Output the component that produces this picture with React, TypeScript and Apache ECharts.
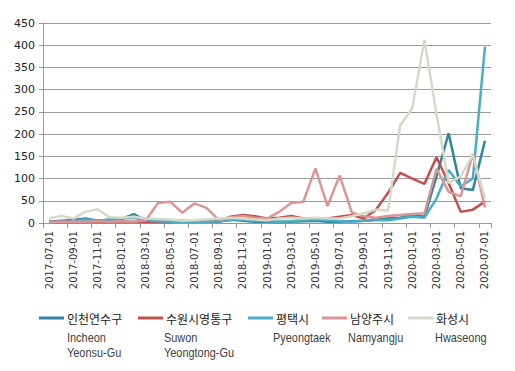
import React, { useEffect, useRef } from "react";
import * as echarts from "echarts";

const categories: string[] = [
  "2017-07-01","2017-08-01","2017-09-01","2017-10-01","2017-11-01","2017-12-01",
  "2018-01-01","2018-02-01","2018-03-01","2018-04-01","2018-05-01","2018-06-01",
  "2018-07-01","2018-08-01","2018-09-01","2018-10-01","2018-11-01","2018-12-01",
  "2019-01-01","2019-02-01","2019-03-01","2019-04-01","2019-05-01","2019-06-01",
  "2019-07-01","2019-08-01","2019-09-01","2019-10-01","2019-11-01","2019-12-01",
  "2020-01-01","2020-02-01","2020-03-01","2020-04-01","2020-05-01","2020-06-01",
  "2020-07-01",
];

const incheonYeonsu: number[] = [3,5,7,10,5,8,9,20,5,3,2,5,3,4,3,8,5,3,3,2,3,4,5,3,3,4,5,8,10,12,18,14,105,202,78,74,185];
const suwonYeongtong: number[] = [2,3,2,3,2,3,2,3,2,3,2,3,4,3,5,14,18,15,10,12,16,10,8,10,14,18,10,30,68,113,100,88,148,90,25,30,48];
const pyeongtaek: number[] = [2,3,4,8,6,6,10,12,6,4,3,3,2,3,4,6,8,5,4,3,4,6,8,6,4,3,5,6,6,10,14,12,55,119,82,100,397];
const namyangju: number[] = [2,3,3,3,4,3,4,3,6,45,48,23,44,34,7,12,16,12,10,25,45,48,123,38,107,24,15,12,16,18,20,22,122,70,60,155,35];
const hwaseong: number[] = [10,16,10,25,31,13,12,14,10,9,8,5,6,8,10,12,10,8,6,10,12,10,12,10,10,15,22,30,28,220,258,412,245,90,105,153,55];

const seriesNamesKo: string[] = ["인천연수구", "수원시영통구", "평택시", "남양주시", "화성시"];
const seriesNamesEn: string[][] = [
  ["Incheon", "Yeonsu-Gu"],
  ["Suwon", "Yeongtong-Gu"],
  ["Pyeongtaek"],
  ["Namyangju"],
  ["Hwaseong"],
];
const seriesData: number[][] = [incheonYeonsu, suwonYeongtong, pyeongtaek, namyangju, hwaseong];
const colors: string[] = ["#31859C", "#C0504D", "#4BACC6", "#D99694", "#D5DAC8"];

const legendLefts = [39, 138, 248, 322, 408];
const enLefts = [67, 164, 273, 348, 435];

export default function App() {
  const ref = useRef<HTMLDivElement>(null);
  useEffect(() => {
    if (!ref.current) return;
    const chart = echarts.init(ref.current, undefined, { renderer: "svg" });
    const graphics: any[] = [];
    seriesNamesEn.forEach((lines, k) => {
      lines.forEach((t, j) => {
        graphics.push({
          type: "text",
          x: enLefts[k],
          y: 338 + j * 15,
          scaleX: 0.84,
          style: {
            text: t,
            fill: "#404040",
            font: '13px "Liberation Sans", Arial, sans-serif',
            verticalAlign: "middle",
            align: "left",
          },
        });
      });
    });
    chart.setOption({
      animation: false,
      grid: { left: 43, right: 24, top: 23, bottom: 148, containLabel: false },
      xAxis: {
        type: "category",
        data: categories,
        boundaryGap: true,
        axisLine: { show: true, lineStyle: { color: "#999", width: 1 } },
        axisTick: { show: true, interval: 1, length: 5, lineStyle: { color: "#999" } },
        axisLabel: {
          interval: 1,
          rotate: 90,
          margin: 8,
          color: "#333",
          fontSize: 10,
          fontFamily: '"DejaVu Sans", sans-serif',
        },
        splitLine: { show: false },
      },
      yAxis: {
        type: "value",
        min: 0,
        max: 450,
        interval: 50,
        axisLine: { show: true, lineStyle: { color: "#999", width: 1 } },
        axisTick: { show: true, length: 4, lineStyle: { color: "#999" } },
        axisLabel: {
          margin: 8,
          color: "#222",
          fontSize: 11,
          fontFamily: '"DejaVu Sans", sans-serif',
        },
        splitLine: { show: true, lineStyle: { color: "#9a9a9a", width: 1 } },
      },
      legend: seriesNamesKo.map((n, k) => ({
        data: [n],
        left: legendLefts[k],
        top: 312,
        icon: "rect",
        itemWidth: 25,
        itemHeight: 3,
        padding: 0,
        selectedMode: false,
        textStyle: {
          color: "#222",
          fontSize: 12,
          fontFamily: '"Noto Sans CJK KR", sans-serif',
          padding: [0, 0, 0, -2],
        },
      })),
      graphic: graphics,
      series: seriesNamesKo.map((n, k) => ({
        name: n,
        type: "line",
        data: seriesData[k],
        showSymbol: false,
        symbol: "none",
        lineStyle: { color: colors[k], width: 2.5 },
        itemStyle: { color: colors[k] },
      })),
    });
    return () => chart.dispose();
  }, []);
  return <div ref={ref} style={{ width: 515, height: 371, position: "absolute", left: 0, top: 0, background: "#fff" }} />;
}
